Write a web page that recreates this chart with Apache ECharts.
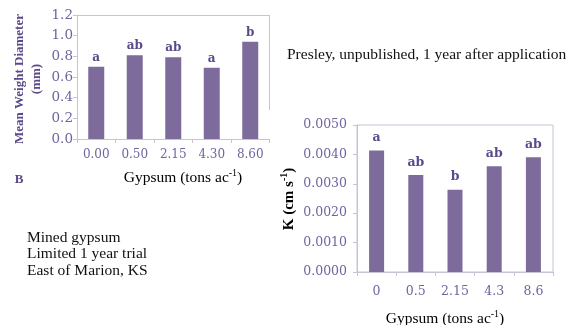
<!DOCTYPE html>
<html>
<head>
<meta charset="utf-8">
<style>
html,body{margin:0;padding:0;background:#fff;}
#c{width:582px;height:325px;}
</style>
<script src="https://cdn.jsdelivr.net/npm/echarts@6/dist/echarts.min.js"></script>
</head>
<body>
<div id="c"></div>
<script>
// ---- data ----
const mwdCategories = ['0.00', '0.50', '2.15', '4.30', '8.60'];
const mwdValues = [0.70, 0.81, 0.79, 0.69, 0.94];
const mwdLetters = ['a', 'ab', 'ab', 'a', 'b'];
const mwdTicks = { min: 0, max: 1.2, interval: 0.2 };

const kCategories = ['0', '0.5', '2.15', '4.3', '8.6'];
const kValues = [0.00413, 0.0033, 0.0028, 0.0036, 0.0039];
const kLetters = ['a', 'ab', 'b', 'ab', 'ab'];
const kTicks = { min: 0, max: 0.005, interval: 0.001 };

// ---- styles ----
const BAR = '#7c6b9b';
const LAB = '#7263a0';
const TITLE = '#5b4a8a';
const LINE = '#c9c2d6';
const SERIF = 'DejaVu Serif';
const TIMES = 'Liberation Serif';

const g1 = { left: 77, top: 15, width: 192.5, height: 124 };
const g2 = { left: 357, top: 125, width: 196, height: 147 };

const chart = echarts.init(document.getElementById('c'), null, { renderer: 'canvas' });

function xAxisCfg(cats, gi, margin, fs) {
  return {
    type: 'category', gridIndex: gi, data: cats, boundaryGap: true,
    axisLine: { show: true, lineStyle: { color: LINE, width: 1 } },
    axisTick: { show: true, length: 4, lineStyle: { color: LINE } },
    axisLabel: { color: LAB, fontFamily: SERIF, fontSize: fs, margin: margin },
    splitLine: { show: false }
  };
}
function yAxisCfg(t, gi, digits, margin, fs) {
  return {
    type: 'value', gridIndex: gi, min: t.min, max: t.max, interval: t.interval,
    axisLine: { show: true, lineStyle: { color: LINE, width: 1 } },
    axisTick: { show: true, length: 4, lineStyle: { color: LINE } },
    axisLabel: { color: LAB, fontFamily: SERIF, fontSize: fs, margin: margin,
      formatter: v => v.toFixed(digits) },
    splitLine: { show: false }
  };
}

const supRich = {
  m: { fontFamily: TIMES, fontSize: 15.5, color: '#111', lineHeight: 18, verticalAlign: 'bottom' },
  s: { fontFamily: TIMES, fontSize: 10, color: '#111', lineHeight: 18, verticalAlign: 'top' }
};
const ySupRich = {
  m: { fontFamily: TIMES, fontWeight: 'bold', fontSize: 15, color: TITLE, lineHeight: 18, verticalAlign: 'bottom' },
  s: { fontFamily: TIMES, fontWeight: 'bold', fontSize: 10, color: TITLE, lineHeight: 18, verticalAlign: 'top' }
};

chart.setOption({
  animation: false,
  grid: [
    Object.assign({ show: false }, g1),
    Object.assign({ show: true, borderColor: LINE, borderWidth: 1, backgroundColor: 'transparent' }, g2)
  ],
  xAxis: [xAxisCfg(mwdCategories, 0, 10, 12), xAxisCfg(kCategories, 1, 13, 12.5)],
  yAxis: [yAxisCfg(mwdTicks, 0, 1, 4, 13.5), yAxisCfg(kTicks, 1, 4, 10, 12.5)],
  series: [
    {
      type: 'bar', xAxisIndex: 0, yAxisIndex: 0, data: mwdValues, barWidth: 16,
      itemStyle: { color: BAR },
      label: { show: true, position: 'top', distance: 3, color: TITLE,
        fontFamily: SERIF, fontWeight: 'bold', fontSize: 12,
        formatter: p => mwdLetters[p.dataIndex] }
    },
    {
      type: 'bar', xAxisIndex: 1, yAxisIndex: 1, data: kValues, barWidth: 15,
      itemStyle: { color: BAR },
      label: { show: true, position: 'top', distance: 6, color: TITLE,
        fontFamily: SERIF, fontWeight: 'bold', fontSize: 12.5,
        formatter: p => kLetters[p.dataIndex] }
    }
  ],
  graphic: [
    // partial frame of the left panel
    { type: 'line', silent: true, shape: { x1: g1.left, y1: g1.top + 0.5, x2: g1.left + g1.width, y2: g1.top + 0.5 },
      style: { stroke: LINE, lineWidth: 1 } },
    { type: 'line', silent: true, shape: { x1: g1.left + g1.width, y1: g1.top, x2: g1.left + g1.width, y2: 110 },
      style: { stroke: LINE, lineWidth: 1 } },
    // left y title (two lines)
    { type: 'text', x: 28.5, y: 79, rotation: Math.PI / 2,
      style: { text: 'Mean Weight Diameter\n(mm)', fontFamily: TIMES, fontWeight: 'bold', fontSize: 13,
        fill: TITLE, align: 'center', verticalAlign: 'middle', lineHeight: 17 } },
    // B
    { type: 'text', x: 19, y: 180,
      style: { text: 'B', fontFamily: TIMES, fontWeight: 'bold', fontSize: 13, fill: TITLE,
        align: 'center', verticalAlign: 'middle' } },
    // left x title
    { type: 'text', x: 183, y: 177,
      style: { text: '{m|Gypsum (tons ac}{s|-1}{m|)}', rich: supRich, align: 'center', verticalAlign: 'middle' } },
    // right x title
    { type: 'text', x: 445, y: 318,
      style: { text: '{m|Gypsum (tons ac}{s|-1}{m|)}', rich: supRich, align: 'center', verticalAlign: 'middle' } },
    // right y title
    { type: 'text', x: 288, y: 199, rotation: Math.PI / 2,
      style: { text: '{m|K (cm s}{s|-1}{m|)}', rich: ySupRich, align: 'center', verticalAlign: 'middle' } },
    // notes
    { type: 'text', x: 287, y: 55,
      style: { text: 'Presley, unpublished, 1 year after application', fontFamily: TIMES, fontSize: 15.5,
        fill: '#111', align: 'left', verticalAlign: 'middle' } },
    { type: 'text', x: 27, y: 254,
      style: { text: 'Mined gypsum\nLimited 1 year trial\nEast of Marion, KS', fontFamily: TIMES, fontSize: 15.5,
        fill: '#111', align: 'left', verticalAlign: 'middle', lineHeight: 16.5 } }
  ]
});
</script>
</body>
</html>
